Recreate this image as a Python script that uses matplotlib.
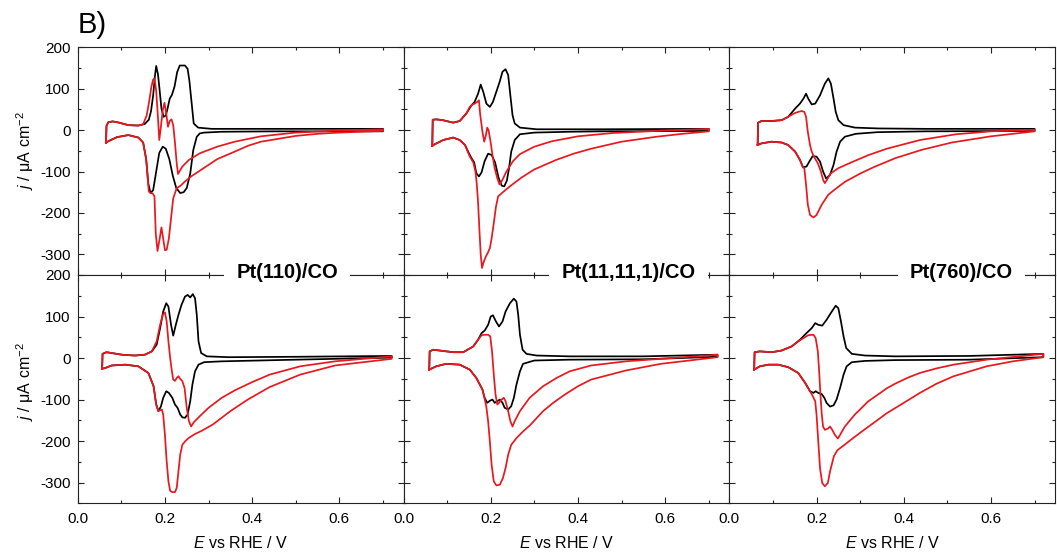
import matplotlib
matplotlib.use('Agg')
import matplotlib.pyplot as plt
from matplotlib.ticker import MultipleLocator, FormatStrFormatter

plt.rcParams['font.family'] = ['Liberation Sans', 'DejaVu Sans']
plt.rcParams['mathtext.fontset'] = 'custom'
plt.rcParams['mathtext.rm'] = 'Liberation Sans'
plt.rcParams['mathtext.it'] = 'Liberation Sans:italic'
plt.rcParams['mathtext.bf'] = 'Liberation Sans:bold'
plt.rcParams['axes.unicode_minus'] = False

# ---------------- data (E / V vs RHE, j / uA cm-2), closed CV loops ----------------
# Row 1, Pt(110)
r1_110_black_E = [0.065, 0.066, 0.070, 0.080, 0.095, 0.116, 0.139, 0.154, 0.163, 0.168, 0.173, 0.177, 0.180, 0.184, 0.188, 0.192, 0.197, 0.202, 0.206, 0.211, 0.216, 0.222, 0.228, 0.234, 0.246, 0.252, 0.256, 0.261, 0.266, 0.276, 0.307, 0.45, 0.70,
                  0.70, 0.45, 0.33, 0.290, 0.280, 0.273, 0.265, 0.258, 0.250, 0.243, 0.235, 0.226, 0.218, 0.210, 0.202, 0.195, 0.187, 0.180, 0.173, 0.167, 0.162, 0.157, 0.150, 0.139, 0.116, 0.090, 0.072, 0.065]
r1_110_black_j = [-30, 10, 19, 21, 18, 12, 11, 15, 25, 45, 84, 130, 155, 135, 95, 52, 32, 35, 52, 76, 85, 105, 140, 156, 156, 148, 120, 68, 16, 6, 3, 3, 3,
                  -3, -3, -4, -6, -8, -16, -48, -105, -140, -150, -152, -140, -110, -70, -45, -40, -55, -100, -145, -152, -130, -70, -30, -18, -12, -17, -26, -30]
r1_110_red_E = [0.065, 0.066, 0.070, 0.080, 0.095, 0.116, 0.139, 0.150, 0.158, 0.164, 0.169, 0.173, 0.176, 0.180, 0.184, 0.187, 0.191, 0.195, 0.199, 0.203, 0.207, 0.211, 0.215, 0.219, 0.223, 0.227, 0.230, 0.240, 0.255, 0.28, 0.32, 0.36, 0.42, 0.50, 0.60, 0.70,
                0.70, 0.60, 0.55, 0.50, 0.42, 0.39, 0.36, 0.32, 0.28, 0.26, 0.245, 0.235, 0.227, 0.219, 0.214, 0.209, 0.204, 0.200, 0.196, 0.192, 0.188, 0.183, 0.179, 0.176, 0.172, 0.167, 0.163, 0.160, 0.157, 0.150, 0.139, 0.116, 0.090, 0.072, 0.065]
r1_110_red_j = [-30, 10, 19, 21, 18, 12, 11, 14, 35, 70, 105, 122, 125, 95, 30, -24, 10, 48, 66, 40, 8, 22, 26, 12, -30, -80, -106, -88, -72, -56, -40, -28, -15, -6, -1, 2,
                -2, -6, -9, -14, -28, -38, -52, -70, -98, -112, -125, -135, -140, -165, -213, -262, -289, -290, -262, -235, -262, -292, -250, -160, -153, -152, -148, -110, -70, -30, -18, -12, -17, -26, -30]

# Row 1, Pt(11,11,1)
r1_11111_black_E = [0.066, 0.067, 0.075, 0.090, 0.114, 0.129, 0.144, 0.156, 0.163, 0.171, 0.177, 0.183, 0.190, 0.198, 0.205, 0.212, 0.220, 0.227, 0.234, 0.240, 0.245, 0.250, 0.255, 0.267, 0.305, 0.45, 0.70,
                    0.70, 0.45, 0.38, 0.30, 0.267, 0.255, 0.247, 0.242, 0.237, 0.231, 0.225, 0.218, 0.210, 0.202, 0.194, 0.186, 0.179, 0.173, 0.167, 0.162, 0.156, 0.150, 0.141, 0.129, 0.114, 0.091, 0.072, 0.066]
r1_11111_black_j = [-38, 25, 26, 24, 18, 22, 40, 60, 68, 88, 110, 92, 64, 56, 68, 90, 115, 141, 147, 133, 84, 36, 16, 6, 2, 2, 3,
                    -2, -3, -4, -6, -10, -24, -52, -92, -122, -136, -134, -115, -78, -60, -57, -75, -102, -112, -104, -78, -68, -56, -36, -24, -18, -24, -34, -38]
r1_11111_red_E = [0.066, 0.067, 0.075, 0.090, 0.114, 0.129, 0.144, 0.152, 0.158, 0.163, 0.169, 0.173, 0.176, 0.181, 0.185, 0.189, 0.192, 0.195, 0.199, 0.204, 0.209, 0.215, 0.220, 0.226, 0.236, 0.251, 0.267, 0.30, 0.34, 0.40, 0.48, 0.58, 0.70,
                  0.70, 0.64, 0.58, 0.50, 0.43, 0.39, 0.35, 0.30, 0.27, 0.245, 0.230, 0.217, 0.212, 0.207, 0.202, 0.198, 0.194, 0.189, 0.184, 0.180, 0.177, 0.174, 0.171, 0.168, 0.165, 0.160, 0.152, 0.141, 0.129, 0.114, 0.091, 0.072, 0.066]
r1_11111_red_j = [-38, 25, 26, 24, 18, 22, 40, 56, 62, 64, 68, 72, 36, -4, -28, -12, 6, 0, -24, -60, -92, -116, -131, -122, -100, -75, -58, -40, -27, -15, -7, -2, 3,
                  -3, -9, -16, -28, -45, -57, -72, -95, -115, -135, -148, -160, -185, -225, -262, -285, -295, -305, -318, -333, -300, -240, -175, -130, -100, -78, -64, -36, -24, -18, -24, -34, -38]

# Row 1, Pt(760)
r1_760_black_E = [0.065, 0.066, 0.074, 0.097, 0.120, 0.135, 0.151, 0.162, 0.170, 0.176, 0.181, 0.189, 0.197, 0.208, 0.219, 0.227, 0.233, 0.239, 0.244, 0.250, 0.262, 0.288, 0.342, 0.45, 0.70,
                  0.70, 0.45, 0.34, 0.29, 0.265, 0.254, 0.246, 0.239, 0.231, 0.222, 0.215, 0.208, 0.200, 0.191, 0.184, 0.177, 0.169, 0.162, 0.151, 0.135, 0.120, 0.097, 0.074, 0.065]
r1_760_black_j = [-36, 18, 22, 22, 24, 32, 52, 64, 76, 88, 76, 62, 64, 84, 112, 125, 112, 76, 44, 24, 12, 6, 4, 3, 3,
                  -2, -3, -5, -9, -16, -28, -52, -84, -108, -117, -100, -76, -64, -63, -75, -88, -90, -72, -52, -36, -30, -28, -32, -36]
r1_760_red_E = [0.065, 0.066, 0.074, 0.097, 0.120, 0.135, 0.148, 0.158, 0.166, 0.172, 0.176, 0.180, 0.185, 0.189, 0.195, 0.203, 0.210, 0.215, 0.219, 0.224, 0.232, 0.25, 0.284, 0.32, 0.361, 0.437, 0.52, 0.60, 0.70,
                0.70, 0.60, 0.51, 0.44, 0.38, 0.33, 0.30, 0.265, 0.240, 0.227, 0.212, 0.200, 0.193, 0.185, 0.180, 0.176, 0.172, 0.169, 0.162, 0.151, 0.135, 0.120, 0.097, 0.074, 0.065]
r1_760_red_j = [-36, 18, 22, 22, 24, 32, 40, 44, 46, 44, 32, -4, -36, -52, -66, -80, -100, -120, -128, -120, -105, -92, -76, -60, -45, -24, -10, -3, 1,
                -3, -15, -30, -48, -68, -90, -105, -125, -145, -156, -180, -205, -211, -205, -180, -132, -92, -90, -72, -52, -36, -30, -28, -32, -36]

# Row 2, Pt(110)
r2_110_black_E = [0.056, 0.057, 0.066, 0.078, 0.101, 0.131, 0.154, 0.170, 0.181, 0.189, 0.196, 0.203, 0.208, 0.214, 0.219, 0.225, 0.231, 0.238, 0.246, 0.252, 0.258, 0.264, 0.269, 0.273, 0.277, 0.283, 0.296, 0.346, 0.50, 0.72,
                  0.72, 0.50, 0.33, 0.290, 0.277, 0.269, 0.263, 0.258, 0.252, 0.246, 0.240, 0.235, 0.229, 0.223, 0.217, 0.209, 0.203, 0.196, 0.191, 0.185, 0.180, 0.174, 0.162, 0.139, 0.109, 0.078, 0.063, 0.056]
r2_110_black_j = [-26, 10, 14, 12, 8, 6, 8, 16, 32, 72, 112, 132, 124, 80, 54, 80, 104, 128, 148, 152, 146, 154, 144, 104, 40, 12, 4, 2, 3, 5,
                  1, -4, -8, -10, -16, -32, -64, -104, -136, -144, -143, -136, -120, -112, -96, -84, -80, -96, -116, -128, -112, -68, -36, -20, -16, -18, -24, -26]
r2_110_red_E = [0.056, 0.057, 0.066, 0.078, 0.101, 0.131, 0.154, 0.170, 0.181, 0.189, 0.195, 0.200, 0.204, 0.208, 0.212, 0.216, 0.219, 0.223, 0.227, 0.231, 0.235, 0.240, 0.245, 0.250, 0.255, 0.260, 0.266, 0.28, 0.30, 0.33, 0.36, 0.40, 0.44, 0.51, 0.59, 0.72,
                0.72, 0.59, 0.51, 0.44, 0.39, 0.35, 0.31, 0.285, 0.269, 0.254, 0.246, 0.240, 0.235, 0.231, 0.227, 0.223, 0.217, 0.212, 0.208, 0.204, 0.200, 0.196, 0.193, 0.188, 0.185, 0.180, 0.174, 0.162, 0.139, 0.109, 0.078, 0.063, 0.056]
r2_110_red_j = [-26, 10, 14, 12, 8, 6, 8, 16, 40, 80, 104, 110, 88, 40, 0, -32, -52, -55, -48, -44, -50, -56, -72, -120, -152, -165, -155, -140, -120, -96, -78, -58, -40, -20, -8, 4,
                -2, -18, -40, -70, -100, -128, -160, -175, -183, -193, -201, -209, -233, -273, -313, -323, -323, -320, -297, -249, -185, -136, -124, -126, -128, -112, -68, -36, -20, -16, -18, -24, -26]

# Row 2, Pt(11,11,1)
r2_11111_black_E = [0.059, 0.060, 0.068, 0.083, 0.114, 0.137, 0.160, 0.171, 0.179, 0.186, 0.194, 0.200, 0.205, 0.212, 0.219, 0.227, 0.234, 0.244, 0.253, 0.259, 0.263, 0.267, 0.273, 0.282, 0.305, 0.381, 0.55, 0.72,
                    0.72, 0.55, 0.38, 0.30, 0.274, 0.267, 0.259, 0.253, 0.247, 0.240, 0.232, 0.227, 0.221, 0.215, 0.209, 0.204, 0.198, 0.192, 0.186, 0.181, 0.175, 0.167, 0.152, 0.129, 0.098, 0.075, 0.059]
r2_11111_black_j = [-28, 16, 20, 18, 14, 14, 28, 44, 60, 66, 80, 100, 103, 88, 76, 88, 112, 132, 143, 136, 104, 56, 20, 10, 6, 4, 4, 8,
                    3, -3, -4, -6, -14, -32, -64, -96, -116, -124, -120, -108, -100, -104, -108, -100, -103, -108, -96, -76, -64, -48, -28, -16, -14, -20, -28]
r2_11111_red_E = [0.059, 0.060, 0.068, 0.083, 0.114, 0.137, 0.160, 0.171, 0.179, 0.186, 0.194, 0.199, 0.203, 0.207, 0.211, 0.215, 0.219, 0.225, 0.230, 0.234, 0.240, 0.245, 0.250, 0.255, 0.267, 0.289, 0.320, 0.351, 0.381, 0.43, 0.51, 0.59, 0.72,
                  0.72, 0.59, 0.51, 0.43, 0.40, 0.37, 0.343, 0.32, 0.305, 0.29, 0.274, 0.259, 0.247, 0.240, 0.234, 0.228, 0.221, 0.213, 0.207, 0.202, 0.198, 0.194, 0.190, 0.186, 0.181, 0.175, 0.167, 0.152, 0.129, 0.098, 0.075, 0.059]
r2_11111_red_j = [-28, 16, 20, 18, 14, 14, 28, 44, 55, 56, 56, 52, 16, -40, -88, -112, -108, -100, -96, -104, -128, -152, -165, -152, -128, -96, -68, -48, -32, -18, -8, -2, 8,
                  2, -14, -30, -52, -68, -88, -108, -128, -145, -162, -177, -193, -209, -233, -265, -289, -305, -307, -297, -257, -201, -152, -118, -98, -76, -64, -48, -28, -16, -14, -20, -28]

# Row 2, Pt(760)
r2_760_black_E = [0.057, 0.058, 0.070, 0.097, 0.120, 0.143, 0.162, 0.177, 0.189, 0.197, 0.204, 0.213, 0.223, 0.235, 0.244, 0.250, 0.256, 0.262, 0.268, 0.281, 0.311, 0.38, 0.55, 0.72,
                  0.72, 0.55, 0.38, 0.311, 0.281, 0.269, 0.262, 0.254, 0.246, 0.239, 0.231, 0.223, 0.218, 0.212, 0.204, 0.198, 0.193, 0.185, 0.174, 0.158, 0.135, 0.112, 0.090, 0.070, 0.057]
r2_760_black_j = [-28, 14, 16, 14, 18, 28, 44, 60, 72, 84, 80, 78, 92, 112, 126, 120, 88, 52, 24, 10, 6, 4, 5, 10,
                  2, -4, -5, -7, -10, -20, -40, -72, -100, -114, -117, -108, -96, -87, -84, -80, -84, -80, -60, -36, -22, -16, -16, -20, -28]
r2_760_red_E = [0.057, 0.058, 0.070, 0.097, 0.120, 0.143, 0.158, 0.170, 0.181, 0.193, 0.198, 0.203, 0.206, 0.209, 0.212, 0.215, 0.219, 0.226, 0.231, 0.236, 0.242, 0.249, 0.254, 0.265, 0.288, 0.319, 0.349, 0.361, 0.38, 0.41, 0.437, 0.475, 0.514, 0.59, 0.72,
                0.72, 0.65, 0.59, 0.514, 0.475, 0.437, 0.40, 0.361, 0.33, 0.30, 0.28, 0.263, 0.248, 0.240, 0.231, 0.226, 0.219, 0.213, 0.208, 0.204, 0.200, 0.197, 0.189, 0.185, 0.174, 0.158, 0.135, 0.112, 0.090, 0.070, 0.057]
r2_760_red_j = [-28, 14, 16, 14, 18, 28, 40, 48, 55, 56, 48, 16, -32, -88, -136, -165, -173, -170, -165, -173, -185, -194, -185, -165, -136, -104, -82, -73, -62, -47, -36, -25, -16, -4, 10,
                2, -8, -20, -44, -62, -84, -108, -133, -157, -180, -196, -210, -222, -236, -273, -301, -309, -301, -265, -201, -136, -104, -87, -80, -60, -36, -22, -16, -16, -20, -28]

panel_labels = ['Pt(110)/CO', 'Pt(11,11,1)/CO', 'Pt(760)/CO']
x_ticks = [0.0, 0.2, 0.4, 0.6]
y_ticks = [-300, -200, -100, 0, 100, 200]

curves = [
    [(r1_110_black_E, r1_110_black_j, r1_110_red_E, r1_110_red_j),
     (r1_11111_black_E, r1_11111_black_j, r1_11111_red_E, r1_11111_red_j),
     (r1_760_black_E, r1_760_black_j, r1_760_red_E, r1_760_red_j)],
    [(r2_110_black_E, r2_110_black_j, r2_110_red_E, r2_110_red_j),
     (r2_11111_black_E, r2_11111_black_j, r2_11111_red_E, r2_11111_red_j),
     (r2_760_black_E, r2_760_black_j, r2_760_red_E, r2_760_red_j)],
]

# ---------------- layout ----------------
W, H = 1057, 552
fig = plt.figure(figsize=(W / 100, H / 100), dpi=100)
col_left = [77.7, 403.5, 729.3]
col_w = 325.8
row_top = [47.3, 275.0]
row_h = [227.7, 228.3]
RED = '#e8181e'

for r in range(2):
    for c in range(3):
        x0 = col_left[c]
        y0 = row_top[r]
        ax = fig.add_axes([x0 / W, 1 - (y0 + row_h[r]) / H, col_w / W, row_h[r] / H])
        bE, bj, rE, rj = curves[r][c]
        ax.plot(bE, bj, color='black', lw=1.25, solid_joinstyle='round')
        ax.plot(rE, rj, color=RED, lw=1.25, solid_joinstyle='round')
        ax.set_xlim(0, 0.747)
        ax.set_ylim(-350, 200)
        ax.set_xticks(x_ticks)
        ax.set_yticks(y_ticks)
        ax.xaxis.set_minor_locator(MultipleLocator(0.1))
        ax.yaxis.set_minor_locator(MultipleLocator(50))
        ax.xaxis.set_major_formatter(FormatStrFormatter('%.1f'))
        ax.yaxis.set_major_formatter(FormatStrFormatter('%d'))
        ax.tick_params(which='both', direction='in', top=True, right=True,
                       labelsize=11, width=0.8, color='#222222')
        ax.tick_params(which='major', length=4)
        ax.tick_params(which='minor', length=2.5)
        ax.tick_params(axis='x', pad=6.5)
        ax.tick_params(axis='y', pad=5)
        ax.tick_params(labelbottom=(r == 1), labelleft=(c == 0))
        for s in ax.spines.values():
            s.set_linewidth(0.8)
            s.set_color('#222222')
        if r == 1:
            fig.text((x0 + col_w / 2) / W, 1 - 548.3 / H, r'$E$ vs RHE / V',
                     ha='center', va='baseline', fontsize=11.5)
    fig.text(25 / W, 1 - (151 if r == 0 else 382) / H, r'$j$ / μA cm$^{-2}$',
             rotation=90, ha='center', va='center', fontsize=11.5)

label_x = [287, 628.5, 961.5]
for c in range(3):
    fig.text(label_x[c] / W, 1 - 272 / H, panel_labels[c], ha='center', va='center',
             fontsize=14.5, fontweight='bold',
             bbox=dict(boxstyle='square,pad=0.6', fc='white', ec='none'))

fig.text(78 / W, 1 - 33 / H, 'B)', ha='left', va='baseline', fontsize=21)

fig.savefig('out.png', dpi=100)
